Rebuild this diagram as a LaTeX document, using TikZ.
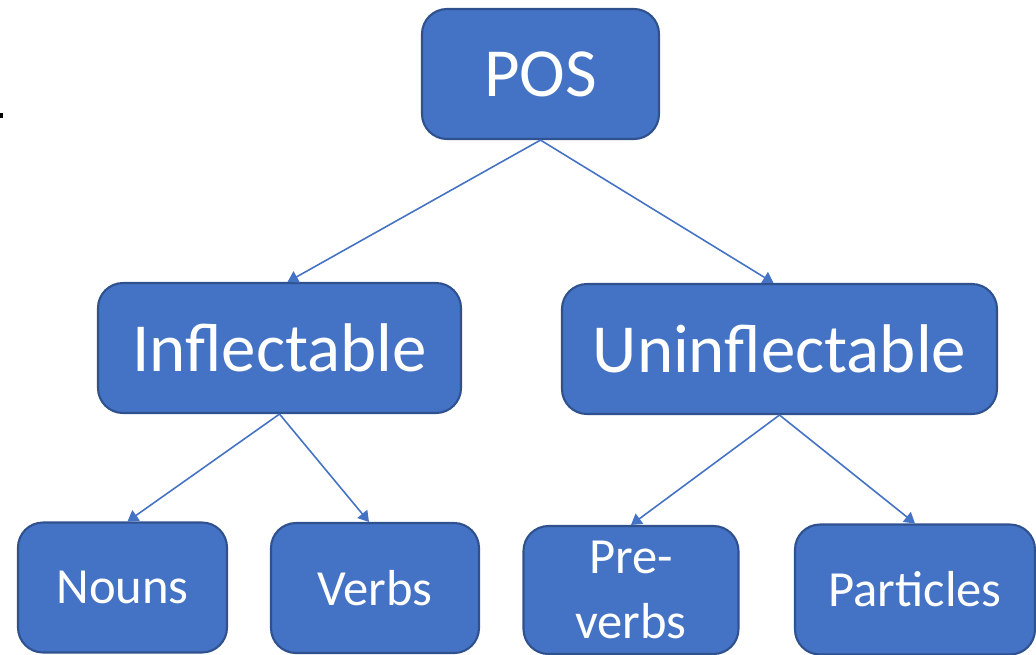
\documentclass[tikz,border=0pt]{standalone}
\usepackage{fontspec}
\setmainfont{Carlito}
\usetikzlibrary{arrows.meta}

\definecolor{boxfill}{HTML}{4472C4}
\definecolor{boxline}{HTML}{2F528F}

\tikzset{
  posbox/.style={draw=boxline, line width=0.6pt, fill=boxfill, rounded corners=0.25cm,
    text=white, minimum height=1.3cm, inner sep=0pt, align=center},
  bigtext/.style={font=\fontsize{19.6}{22}\selectfont},
  smalltext/.style={font=\fontsize{14.4}{18.5}\selectfont},
  branch/.style={draw=boxfill, line width=0.45pt, -{Triangle[width=3.6pt,length=3pt]}},
}

\begin{document}
\begin{tikzpicture}
    \useasboundingbox (0,0) rectangle (10.36,6.54);
    \fill (0,5.36) rectangle (0.03,5.41);

    \node[posbox, bigtext, minimum width=2.37cm] (pos) at (5.405,5.80) {POS};
    \node[posbox, bigtext, minimum width=3.63cm] (infl) at (2.795,3.06) {Inflectable};
    \node[posbox, bigtext, minimum width=4.35cm] (uninfl) at (7.795,3.05) {Uninflectable};

    \node[posbox, smalltext, minimum width=2.09cm] (nouns) at (1.225,0.665) {Nouns};
    \node[posbox, smalltext, minimum width=2.08cm] (verbs) at (3.75,0.66) {Verbs};
    \node[posbox, smalltext, minimum width=2.15cm, minimum height=1.28cm] (preverbs) at (6.31,0.64) {Pre-\\verbs};
    \node[posbox, smalltext, minimum width=2.40cm] (particles) at (9.15,0.645) {Particles};

    \draw[branch] (pos.south) -- ([xshift=0.08cm]infl.north);
    \draw[branch] (pos.south) -- ([xshift=-0.06cm]uninfl.north);
    \draw[branch] (infl.south) -- ([xshift=0.05cm]nouns.north);
    \draw[branch] (infl.south) -- ([xshift=-0.06cm]verbs.north);
    \draw[branch] (uninfl.south) -- (preverbs.north);
    \draw[branch] (uninfl.south) -- (particles.north);
\end{tikzpicture}
\end{document}
